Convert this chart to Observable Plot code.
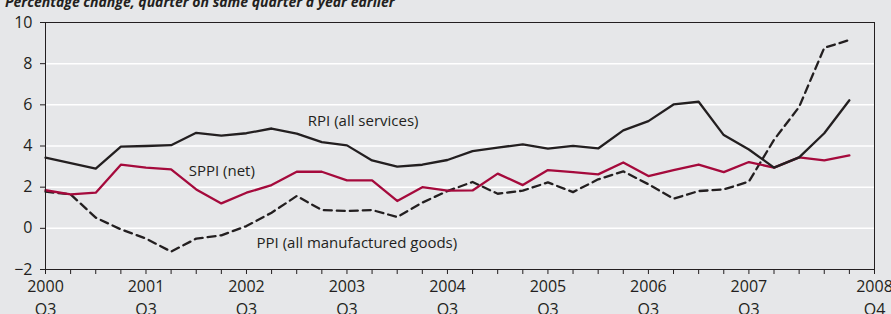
<!DOCTYPE html>
<html>
<head>
<meta charset="utf-8">
<script src="https://cdn.jsdelivr.net/npm/d3@7"></script>
<script src="https://cdn.jsdelivr.net/npm/@observablehq/plot@0.6"></script>
<style>
  html, body { margin: 0; padding: 0; background: #e6e7e9; overflow: hidden; }
  #wrap { position: relative; width: 891px; height: 314px; }
  #title { position: absolute; top: -5px; left: 5px; font: bold italic 14px "Open Sans", sans-serif; line-height: 14px; color: #231f20; white-space: nowrap; }
  #chart { position: absolute; top: 0; left: 0; }
</style>
</head>
<body>
<div id="wrap">
  <div id="chart"></div>
  <div id="title">Percentage change, quarter on same quarter a year earlier</div>
</div>
<script>
// Quarters with data: 2000 Q3 ... 2008 Q3
const quarters = [
  "2000 Q3","2000 Q4","2001 Q1","2001 Q2","2001 Q3","2001 Q4","2002 Q1","2002 Q2",
  "2002 Q3","2002 Q4","2003 Q1","2003 Q2","2003 Q3","2003 Q4","2004 Q1","2004 Q2",
  "2004 Q3","2004 Q4","2005 Q1","2005 Q2","2005 Q3","2005 Q4","2006 Q1","2006 Q2",
  "2006 Q3","2006 Q4","2007 Q1","2007 Q2","2007 Q3","2007 Q4","2008 Q1","2008 Q2",
  "2008 Q3"
];
const rpi = [3.43, 3.17, 2.9, 3.97, 4.0, 4.04, 4.64, 4.5, 4.62, 4.85, 4.6, 4.19, 4.03,
  3.3, 3.0, 3.09, 3.32, 3.75, 3.92, 4.08, 3.87, 4.01, 3.88, 4.76, 5.21, 6.02, 6.15,
  4.53, 3.83, 2.95, 3.45, 4.62, 6.22];
const sppi = [1.85, 1.65, 1.73, 3.09, 2.95, 2.86, 1.89, 1.21, 1.73, 2.1, 2.75, 2.75, 2.33,
  2.33, 1.33, 2.0, 1.83, 1.84, 2.66, 2.1, 2.83, 2.73, 2.62, 3.2, 2.54, 2.83, 3.1,
  2.73, 3.22, 2.95, 3.45, 3.3, 3.54];
const ppi = [1.78, 1.65, 0.52, -0.05, -0.5, -1.13, -0.5, -0.34, 0.11, 0.76, 1.57, 0.89, 0.84,
  0.89, 0.55, 1.25, 1.81, 2.25, 1.68, 1.83, 2.23, 1.76, 2.38, 2.77, 2.14, 1.44, 1.81,
  1.89, 2.27, 4.3, 5.9, 8.77, 9.15];

// Axis ticks
const xTickCount = 34; // 2000 Q3 .. 2008 Q4 (one tick per quarter)
const xLabelIndex = [0, 4, 8, 12, 16, 20, 24, 28, 33];
const xLabelYears = ["2000","2001","2002","2003","2004","2005","2006","2007","2008"];
const xLabelQuarters = ["Q3","Q3","Q3","Q3","Q3","Q3","Q3","Q3","Q4"];
const yTicks = [-2, 0, 2, 4, 6, 8, 10];
const yGrid = [0, 2, 4, 6, 8];

// Series labels (positions in quarter index / percent)
const seriesLabels = [
  {text: "RPI (all services)", q: 10.44, v: 5.2},
  {text: "SPPI (net)", q: 5.7, v: 2.79},
  {text: "PPI (all manufactured goods)", q: 8.4, v: -0.73}
];

const ink = "#231f20";
const red = "#a50a3c";

const labelFor = i => {
  const k = xLabelIndex.indexOf(i);
  return k < 0 ? "" : xLabelYears[k] + "\n" + xLabelQuarters[k];
};

const chart = Plot.plot({
  width: 891,
  height: 314,
  marginLeft: 45,
  marginRight: 17,
  marginTop: 22,
  marginBottom: 45,
  style: {background: "transparent", fontFamily: "'Open Sans', sans-serif", color: ink},
  x: {type: "linear", domain: [0, 33]},
  y: {domain: [-2, 10]},
  marks: [
    Plot.ruleY(yGrid, {stroke: "#ffffff", strokeWidth: 1.5}),
    Plot.line(ppi, {x: (d, i) => i, y: d => d, stroke: ink, strokeWidth: 2.3, strokeDasharray: "8,5"}),
    Plot.line(sppi, {x: (d, i) => i, y: d => d, stroke: red, strokeWidth: 2.3}),
    Plot.line(rpi, {x: (d, i) => i, y: d => d, stroke: ink, strokeWidth: 2.3}),
    Plot.text(seriesLabels, {x: "q", y: "v", text: "text", textAnchor: "start", fontSize: 15, fill: ink}),
    Plot.frame({stroke: ink, strokeWidth: 1}),
    Plot.axisY(yTicks, {tickSize: 5, tickPadding: 8, fontSize: 16, stroke: ink, fill: ink,
      tickFormat: d => d < 0 ? "\u2212" + Math.abs(d) : String(d), label: null}),
    Plot.axisX(d3.range(xTickCount), {tickSize: 5, tickPadding: 2, fontSize: 16, lineHeight: 1.4,
      stroke: ink, fill: ink, tickFormat: labelFor, label: null})
  ]
});
document.getElementById("chart").appendChild(chart);
</script>
</body>
</html>
